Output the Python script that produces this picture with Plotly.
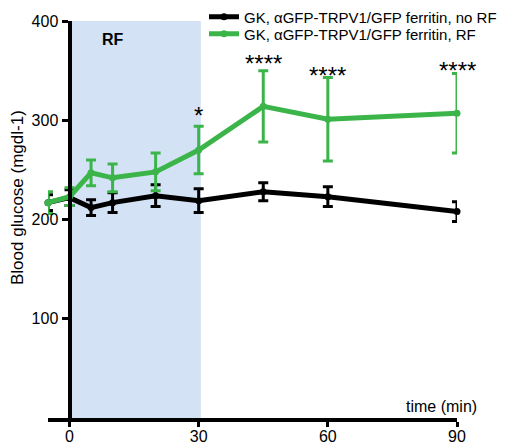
import plotly.graph_objects as go

time_min = [-5, 0, 5, 10, 20, 30, 45, 60, 90]

no_rf_mean = [217, 222, 212, 217, 224, 219, 228, 223, 208]
no_rf_sem = [8, 8, 8, 10, 11, 12, 9, 10, 10]

rf_mean = [217, 223, 247, 242, 248, 270, 314, 301, 307]
rf_sem = [11, 9, 13, 14, 19, 24, 36, 42, 40]

star_times = [30, 45, 60, 90]
star_labels = ["*", "****", "****", "****"]
star_y = [305, 357, 345, 350]

x_ticks = [0, 30, 60, 90]
y_ticks = [100, 200, 300, 400]

names = ["GK, αGFP-TRPV1/GFP ferritin, no RF", "GK, αGFP-TRPV1/GFP ferritin, RF"]
BLACK = "#000000"
GREEN = "#3BB54A"
FONT = "Liberation Sans, Arial, sans-serif"

W, H = 515, 448
OFF = 8  # page body margin offset in the screenshot
ML, MT = 40, 13
w_plot, h_plot = 409, 397
MR = W - ML - w_plot
MB = H - MT - h_plot


def px_x(p):
    return (p - OFF - ML) / w_plot


def px_y(p):
    return (H - MB - (p - OFF)) / h_plot


fig = go.Figure()
fig.add_trace(go.Scatter(
    x=time_min, y=no_rf_mean, name=names[0], mode="lines+markers",
    line=dict(color=BLACK, width=5), marker=dict(color=BLACK, size=7),
    error_y=dict(type="data", array=no_rf_sem, color=BLACK, thickness=3, width=5),
    cliponaxis=False, legend="legend",
))
fig.add_trace(go.Scatter(
    x=time_min, y=rf_mean, name=names[1], mode="lines+markers",
    line=dict(color=GREEN, width=5), marker=dict(color=GREEN, size=7),
    error_y=dict(type="data", array=rf_sem, color=GREEN, thickness=3, width=5),
    cliponaxis=False, legend="legend2",
))

fig.add_shape(type="rect", x0=0, x1=30.5, y0=0, y1=402, xref="x", yref="y",
              fillcolor="rgb(211,226,244)", line=dict(width=0), layer="below")

for t, s, yv in zip(star_times, star_labels, star_y):
    fig.add_annotation(x=t, y=yv, text=s, showarrow=False, xref="x", yref="y",
                       yanchor="middle", font=dict(size=24, color="black", family=FONT))

fig.add_annotation(x=10.2, y=381, text="<b>RF</b>", showarrow=False, xref="x", yref="y",
                   font=dict(size=16, color="black", family=FONT))
fig.add_annotation(x=px_x(479), y=px_y(406), text="time (min)", showarrow=False,
                   xref="paper", yref="paper", xanchor="right", yanchor="middle",
                   font=dict(size=16, color="black", family=FONT))
fig.add_annotation(x=px_x(17), y=px_y(198), text="Blood glucose (mgdl-1)", showarrow=False,
                   xref="paper", yref="paper", xanchor="center", yanchor="middle", textangle=-90,
                   font=dict(size=17, color="black", family=FONT))

leg_common = dict(xanchor="left", yanchor="middle", bgcolor="rgba(0,0,0,0)",
                  font=dict(size=15, family=FONT, color="black"), itemwidth=30)

fig.update_layout(
    width=W, height=H,
    margin=dict(l=ML, r=MR, t=MT, b=MB, autoexpand=False),
    paper_bgcolor="white", plot_bgcolor="white",
    font=dict(family=FONT, size=16, color="black"),
    showlegend=True,
    legend=dict(x=px_x(204), y=px_y(17), **leg_common),
    legend2=dict(x=px_x(204), y=px_y(34), **leg_common),
    xaxis=dict(range=[-5, 90], tickvals=x_ticks, showline=True, linewidth=4, linecolor="black",
               ticks="outside", ticklen=5, tickwidth=3, tickcolor="black", showgrid=False,
               zeroline=False, tickfont=dict(size=16), ticklabelstandoff=-4),
    yaxis=dict(range=[0, 400], tickvals=y_ticks, showline=True, linewidth=4, linecolor="black",
               ticks="outside", ticklen=6, tickwidth=3, tickcolor="black", showgrid=False,
               zeroline=False, anchor="free", position=5 / 95, tickfont=dict(size=16)),
)

fig.write_html("out.html")
